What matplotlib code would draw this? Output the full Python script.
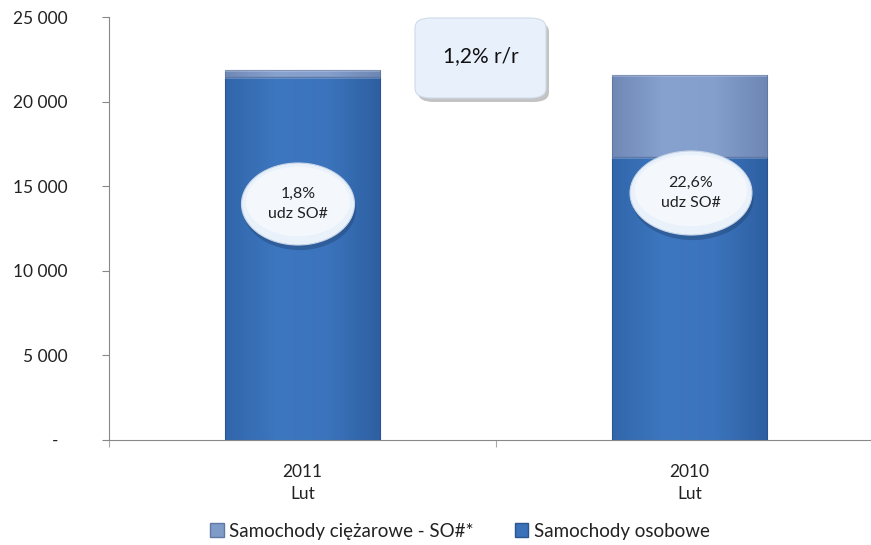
import matplotlib
matplotlib.use("Agg")
import matplotlib.pyplot as plt
import numpy as np
from matplotlib.patches import FancyBboxPatch, Ellipse, Rectangle, Patch
from matplotlib.colors import LinearSegmentedColormap

categories = ["2011\nLut", "2010\nLut"]
osobowe = [21470, 16720]
ciezarowe = [390, 4880]
share_labels = ["1,8%\nudz SO#", "22,6%\nudz SO#"]
yoy_label = "1,2% r/r"
yticks = [0, 5000, 10000, 15000, 20000, 25000]
ytick_labels = ["-  ", "5 000", "10 000", "15 000", "20 000", "25 000"]
legend_labels = ["Samochody ciężarowe - SO#*", "Samochody osobowe"]

plt.rcParams['font.family'] = ['Lato', 'DejaVu Sans']

W, H = 871, 545
fig = plt.figure(figsize=(W / 100, H / 100), dpi=100)
left, right, top, bottom = 109, 883, 17, 440
ax = fig.add_axes([left / W, 1 - bottom / H, (right - left) / W, (bottom - top) / H])

x = np.arange(len(categories))
bw = 0.40
blue = "#3a71b8"
grey_blue = "#7f9cc9"

cmap_blue = LinearSegmentedColormap.from_list("b", ["#3166ab", "#3d77bf", "#3b74bc", "#2e5fa2"])
cmap_grey = LinearSegmentedColormap.from_list("g", ["#7088b6", "#87a2cf", "#849fcc", "#6e87b4"])

def grad_bar(ax, xc, y0, h, cmap, ec, hl):
    r = Rectangle((xc - bw / 2, y0), bw, h, facecolor="none", edgecolor=ec, linewidth=0.8, zorder=3)
    ax.add_patch(r)
    grad = np.linspace(0, 1, 200).reshape(1, -1)
    im = ax.imshow(grad, extent=(xc - bw / 2, xc + bw / 2, y0, y0 + h), cmap=cmap,
                   aspect="auto", zorder=2, interpolation="bicubic")
    im.set_clip_path(r)
    ax.add_patch(Rectangle((xc - bw / 2, y0 + h - hl), bw, hl, facecolor="white",
                           alpha=0.22, edgecolor="none", zorder=3))
    return r

for i in range(len(categories)):
    grad_bar(ax, x[i], 0, osobowe[i], cmap_blue, "#2a5690", 120)
    grad_bar(ax, x[i], osobowe[i], ciezarowe[i], cmap_grey, "#5f78a4", 120)

ax.set_xlim(-0.5, 1.5)
ax.set_ylim(0, 25000)
ax.set_yticks(yticks)
ax.set_yticklabels(ytick_labels, fontsize=12.5, color="#222222")
ax.set_xticks([-0.5, 0.5, 1.5])
ax.set_xticklabels([])
ax.tick_params(axis="x", length=5, color="#aaaaaa")
ax.tick_params(axis="y", length=5, color="#888888", pad=25)
for s in ["top", "right"]:
    ax.spines[s].set_visible(False)
ax.spines["left"].set_color("#888888")
ax.spines["bottom"].set_color("#888888")

for i, c in enumerate(categories):
    ax.text(x[i], -1400, c, ha="center", va="top", fontsize=12.5, color="#222222",
            linespacing=1.5)

def px2data(px, py):
    return ax.transData.inverted().transform(fig.transFigure.transform((px / W, 1 - py / H)))

ell_px = [(298, 204, 113, 82), (691, 193, 122, 84)]
for i, (cx, cy, ew, eh) in enumerate(ell_px):
    (dx, dy) = px2data(cx, cy)
    (dx2, dy2) = px2data(cx + ew, cy + eh)
    w = dx2 - dx
    h = dy - dy2
    sh = Ellipse((dx + 0.004, dy - 300), w, h, facecolor="#1d3e6a", alpha=0.4,
                 edgecolor="none", zorder=5)
    ax.add_patch(sh)
    e = Ellipse((dx, dy), w, h, facecolor="#e9f1fb", edgecolor="#c9d6e8",
                linewidth=0.8, zorder=6)
    ax.add_patch(e)
    e2 = Ellipse((dx, dy + 150), w * 0.92, h * 0.85, facecolor="white", alpha=0.5,
                 edgecolor="none", zorder=6)
    ax.add_patch(e2)
    ax.text(dx, dy, share_labels[i], ha="center", va="center", fontsize=11.5,
            color="#222222", zorder=7, linespacing=1.6)

bx0, by0, bx1, by1 = 415, 18, 546, 98
fig.patches.append(FancyBboxPatch(((bx0 + 3) / W, 1 - (by1 + 4) / H), (bx1 - bx0) / W, (by1 - by0) / H,
                                  boxstyle="round,pad=0,rounding_size=0.018",
                                  transform=fig.transFigure, facecolor="#7a7a7a", alpha=0.45,
                                  edgecolor="none", zorder=8))
fig.patches.append(FancyBboxPatch((bx0 / W, 1 - by1 / H), (bx1 - bx0) / W, (by1 - by0) / H,
                                  boxstyle="round,pad=0,rounding_size=0.018",
                                  transform=fig.transFigure, facecolor="#e8f0fb",
                                  edgecolor="#d0dbea", linewidth=0.8, zorder=9))
fig.text((bx0 + bx1) / 2 / W, 1 - ((by0 + by1) / 2 - 2) / H, yoy_label, ha="center", va="center",
         fontsize=15, color="#111111", zorder=10)

handles = [Patch(facecolor=grey_blue, edgecolor="#5f78a4"), Patch(facecolor=blue, edgecolor="#2a5690")]
fig.legend(handles, legend_labels, loc="center", bbox_to_anchor=(460 / W, 1 - 531 / H), ncol=2,
           frameon=False, fontsize=13.5, handlelength=0.7, handleheight=0.7, handletextpad=0.3,
           columnspacing=2.2, labelcolor="#222222")

fig.savefig("out.png", dpi=100)
